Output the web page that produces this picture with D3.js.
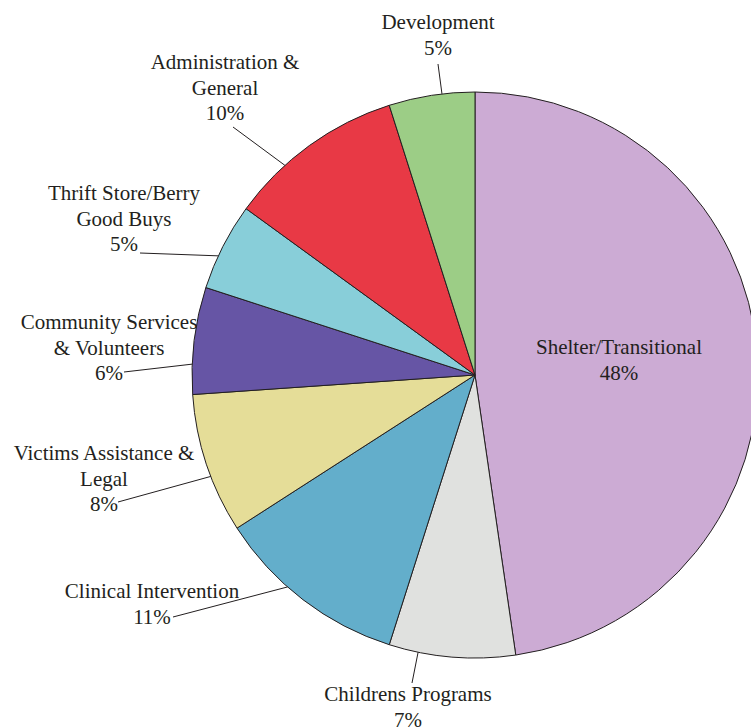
<!DOCTYPE html>
<html>
<head>
<meta charset="utf-8">
<script src="https://cdn.jsdelivr.net/npm/d3@7"></script>
<style>
  body { margin: 0; background: #fff; }
  svg { display: block; }
  text { font-family: "Liberation Serif", "Times New Roman", serif; font-size: 21px; fill: #231f20; }
</style>
</head>
<body>
<svg id="chart" width="751" height="727"></svg>
<script>
const svg = d3.select("#chart");
const width = +svg.attr("width");
const height = +svg.attr("height");

// slices, clockwise from 12 o'clock
const categories = [
  "Shelter/Transitional",
  "Childrens Programs",
  "Clinical Intervention",
  "Victims Assistance & Legal",
  "Community Services & Volunteers",
  "Thrift Store/Berry Good Buys",
  "Administration & General",
  "Development",
];
const values = [47.7, 7.2, 11.0, 8.0, 6.1, 5.0, 10.1, 4.9];
const percentLabels = ["48%", "7%", "11%", "8%", "6%", "5%", "10%", "5%"];
const colors = ["#ccabd4", "#e0e1df", "#63aecb", "#e5dd98", "#6655a5", "#88ced9", "#e83945", "#9ccd86"];

// how each label is broken into lines
const labelLines = [
  ["Shelter/Transitional"],
  ["Childrens Programs"],
  ["Clinical Intervention"],
  ["Victims Assistance &", "Legal"],
  ["Community Services", "& Volunteers"],
  ["Thrift Store/Berry", "Good Buys"],
  ["Administration &", "General"],
  ["Development"],
];

// label placement: text centre x, first baseline y, leader start, leader angle on the rim (deg)
const labelLayout = [
  { x: 619, y: 354, lead: null },
  { x: 408, y: 701, lead: [412, 683], angle: 191.6 },
  { x: 152, y: 598, lead: [173, 617], angle: 221.5 },
  { x: 104, y: 460, lead: [118, 502], angle: 249 },
  { x: 109, y: 329, lead: [124, 372], angle: 272.2 },
  { x: 124, y: 200, lead: [140, 253], angle: 294.9 },
  { x: 225, y: 69, lead: [233, 127], angle: 317.8 },
  { x: 438, y: 29, lead: [438, 64], angle: 353.3 },
];

const cx = 475, cy = 375, radius = 283;
const lineGap = 25.7;

const pie = d3.pie().sort(null).value((d) => d.value);
const arc = d3.arc().innerRadius(0).outerRadius(radius);

const data = categories.map((c, i) => ({ name: c, value: values[i], i }));

const g = svg.append("g").attr("transform", `translate(${cx},${cy})`);

g.selectAll("path")
  .data(pie(data))
  .join("path")
  .attr("d", arc)
  .attr("fill", (d) => colors[d.data.i])
  .attr("stroke", "#231f20")
  .attr("stroke-width", 1);

// leader lines
labelLayout.forEach((l, i) => {
  if (!l.lead) return;
  const a = (l.angle * Math.PI) / 180;
  svg.append("line")
    .attr("x1", l.lead[0])
    .attr("y1", l.lead[1])
    .attr("x2", cx + radius * Math.sin(a))
    .attr("y2", cy - radius * Math.cos(a))
    .attr("stroke", "#231f20")
    .attr("stroke-width", 1);
});

// labels
labelLayout.forEach((l, i) => {
  const lines = labelLines[i].concat([percentLabels[i]]);
  const t = svg.append("text").attr("text-anchor", "middle");
  lines.forEach((s, k) => {
    t.append("tspan").attr("x", l.x).attr("y", l.y + k * lineGap).text(s);
  });
});
</script>
</body>
</html>
